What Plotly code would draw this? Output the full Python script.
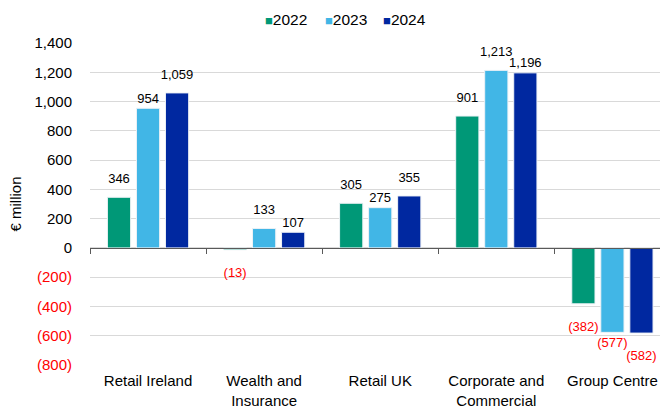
import plotly.graph_objects as go

categories = ["Retail Ireland", "Wealth and<br>Insurance", "Retail UK", "Corporate and<br>Commercial", "Group Centre"]
years = ["2022", "2023", "2024"]
values_2022 = [346, -13, 305, 901, -382]
values_2023 = [954, 133, 275, 1213, -577]
values_2024 = [1059, 107, 355, 1196, -582]
colors = ["#009877", "#41B6E6", "#0028A0"]
y_tickvals = [1400, 1200, 1000, 800, 600, 400, 200, 0, -200, -400, -600, -800]

# label placement style: True = label set close to the bar end
near_2022 = [False, False, False, False, False]
near_2023 = [True, False, True, False, True]
near_2024 = [False, True, False, True, False]

series = [values_2022, values_2023, values_2024]
nears = [near_2022, near_2023, near_2024]
FONT = "Liberation Sans, Arial, sans-serif"


def fmt(v):
    s = f"{abs(v):,}"
    return f"({s})" if v < 0 else s


def tick_text(v):
    s = fmt(v)
    return f"<span style='color:#FF0000'>{s}</span>" if v < 0 else s


def label_pad(v, near):
    if v < 0:
        return 6 if near else 26
    return 2 if near else 16


fig = go.Figure()
for name, vals, col in zip(years, series, colors):
    fig.add_trace(go.Bar(
        x=categories, y=vals, name=name, showlegend=False,
        marker=dict(color=col, line=dict(color="#EEF2F6", width=1)),
        offsetgroup=name,
    ))
for name, vals, near in zip(years, series, nears):
    fig.add_trace(go.Scatter(
        x=categories, y=vals, mode="text+markers", showlegend=False,
        marker=dict(size=[label_pad(v, n) for v, n in zip(vals, near)], opacity=0),
        text=[fmt(v) for v in vals],
        textposition=["bottom center" if v < 0 else "top center" for v in vals],
        textfont=dict(family=FONT, size=13,
                      color=["#FF0000" if v < 0 else "#000000" for v in vals]),
        offsetgroup=name, hoverinfo="skip",
    ))

# legend entries, one legend per year
legend_ids = ["legend", "legend2", "legend3"]
for name, col, lid in zip(years, colors, legend_ids):
    fig.add_trace(go.Scatter(
        x=[None], y=[None], mode="markers",
        marker=dict(opacity=0, size=1, color="rgba(0,0,0,0)",
                    line=dict(width=0, color="rgba(0,0,0,0)")),
        name=f"<span style='color:{col};font-size:13px'>■</span>{name}",
        legend=lid, hoverinfo="skip",
    ))

# invisible trace for the zero-line axis with boundary ticks
fig.add_trace(go.Scatter(x=categories, y=[0] * len(categories), xaxis="x2",
                         mode="markers", marker=dict(opacity=0), showlegend=False,
                         hoverinfo="skip"))

ymin, ymax = -800, 1400
zero_pos = (0 - ymin) / (ymax - ymin)

leg_common = dict(orientation="h", xanchor="left", y=0.993, yanchor="top",
                  yref="container", font=dict(size=15.5), itemwidth=30,
                  bgcolor="rgba(0,0,0,0)")

fig.update_layout(
    width=660, height=407,
    margin=dict(l=90, r=0, t=43, b=42, autoexpand=False),
    paper_bgcolor="white", plot_bgcolor="white",
    barmode="group", bargap=0.25, bargroupgap=0.2,
    scattermode="group", scattergap=0.25,
    font=dict(family=FONT, size=14, color="#000000"),
    legend=dict(x=0.2368, **leg_common),
    legend2=dict(x=0.3421, **leg_common),
    legend3=dict(x=0.4439, **leg_common),
    xaxis=dict(type="category", range=[-0.5, 4.41], showgrid=False, showline=False,
               zeroline=False, ticks="", tickfont=dict(size=15), fixedrange=True,
               ticklabelstandoff=5),
    xaxis2=dict(type="category", overlaying="x", matches="x", anchor="free",
                position=zero_pos, side="bottom", showgrid=False, showline=True,
                linecolor="#595959", linewidth=1, ticks="outside", tickson="boundaries",
                ticklen=5, tickcolor="#595959", showticklabels=False),
    yaxis=dict(range=[ymin, ymax], tickvals=y_tickvals,
               ticktext=[tick_text(v) for v in y_tickvals],
               showgrid=True, gridcolor="#D9D9D9", gridwidth=1,
               zeroline=False, showline=False, ticks="",
               tickfont=dict(size=15), ticklabelstandoff=17,
               title=dict(text="€ million", font=dict(size=15), standoff=9)),
)

fig.write_html("out.html", config={"displayModeBar": False},
               post_script="document.body.style.margin='0';")
